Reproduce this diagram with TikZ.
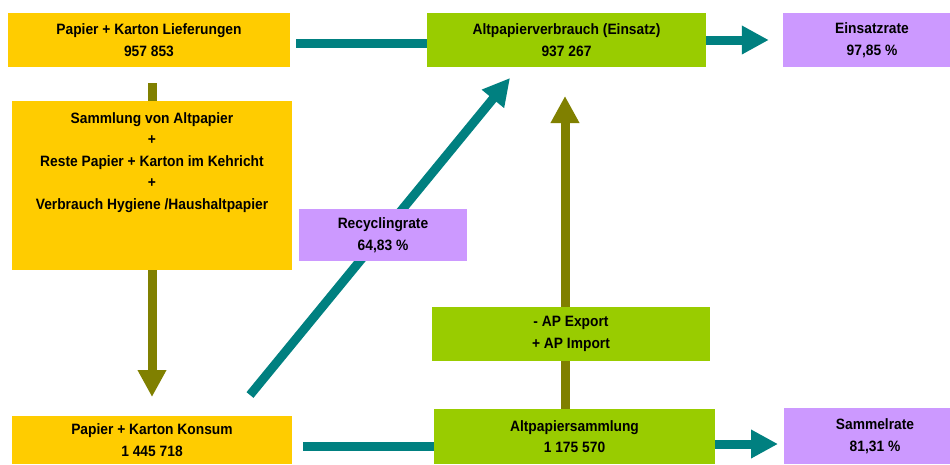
\documentclass[tikz,border=0pt]{standalone}
\usepackage{fontspec}
\setmainfont{Liberation Sans}[FakeStretch=0.92]
\usetikzlibrary{arrows.meta,backgrounds}
\definecolor{gelb}{HTML}{FFCC00}
\definecolor{gruen}{HTML}{99CC00}
\definecolor{lila}{HTML}{CC99FF}
\definecolor{petrol}{HTML}{008080}
\definecolor{oliv}{HTML}{808000}
\begin{document}
\begin{tikzpicture}[x=1pt,y=-1pt,
  box/.style={inner sep=0pt,align=center,font=\fontsize{15}{21.5}\selectfont\bfseries},
  flow/.style={line width=9pt,draw=petrol},
  zufluss/.style={line width=9pt,draw=oliv},
  spitze/.style={-{Triangle[width=27pt,length=27pt]}}]
\useasboundingbox (0,0) rectangle (950,464);
\node[box,fill=gelb,minimum width=282pt,minimum height=54pt] (lief) at (149,40) {Papier + Karton Lieferungen\\957 853};
\node[box,fill=gelb,minimum width=280pt,anchor=north,inner ysep=11pt,text depth=50pt] (samml) at (152,101) {Sammlung von Altpapier\\+\\Reste Papier + Karton im Kehricht\\+\\Verbrauch Hygiene /Haushaltpapier};
\node[box,fill=gelb,minimum width=280pt,minimum height=48pt] (konsum) at (152,440) {Papier + Karton Konsum\\1 445 718};
\node[box,fill=gruen,minimum width=279pt,minimum height=54pt] (verbr) at (566.5,40) {Altpapierverbrauch (Einsatz)\\937 267};
\node[box,fill=lila,minimum width=178pt,minimum height=54pt] (einsatz) at (872,40) {Einsatzrate\\97,85 \%};
\node[box,fill=lila,minimum width=168pt,minimum height=52pt] (recyc) at (383,235) {Recyclingrate\\64,83 \%};
\node[box,fill=gruen,minimum width=278pt,minimum height=54pt] (apx) at (571,334) {- AP Export\\+ AP Import};
\node[box,fill=gruen,minimum width=281pt,minimum height=55pt] (apsamml) at (574.5,436.5) {Altpapiersammlung\\1 175 570};
\node[box,fill=lila,minimum width=182pt,minimum height=56pt] (sammel) at (875,436) {Sammelrate\\81,31 \%};
\coordinate (l1) at (296,43.5);
\coordinate (o1) at (152,83);
\coordinate (o2) at (152,397);
\coordinate (d1) at (250,395);
\coordinate (d2) at (510,78);
\coordinate (u1) at (565,409);
\coordinate (u2) at (565,96);
\coordinate (k1) at (303,446);
\coordinate (s1) at (715,444);
\coordinate (s2) at (778,444);
\begin{pgfonlayer}{background}
\draw[flow] (l1) -- (l1 -| verbr.west);
\draw[flow,spitze] (verbr.east) -- ([xshift=-14pt]einsatz.west);
\draw[zufluss,spitze] (o1) -- (o2);
\draw[flow,spitze] (d1) -- (d2);
\draw[zufluss,spitze] (u1) -- (u2);
\draw[flow] (k1) -- (k1 -| apsamml.west);
\draw[flow,spitze] (s1) -- (s2);
\end{pgfonlayer}
\end{tikzpicture}
\end{document}
